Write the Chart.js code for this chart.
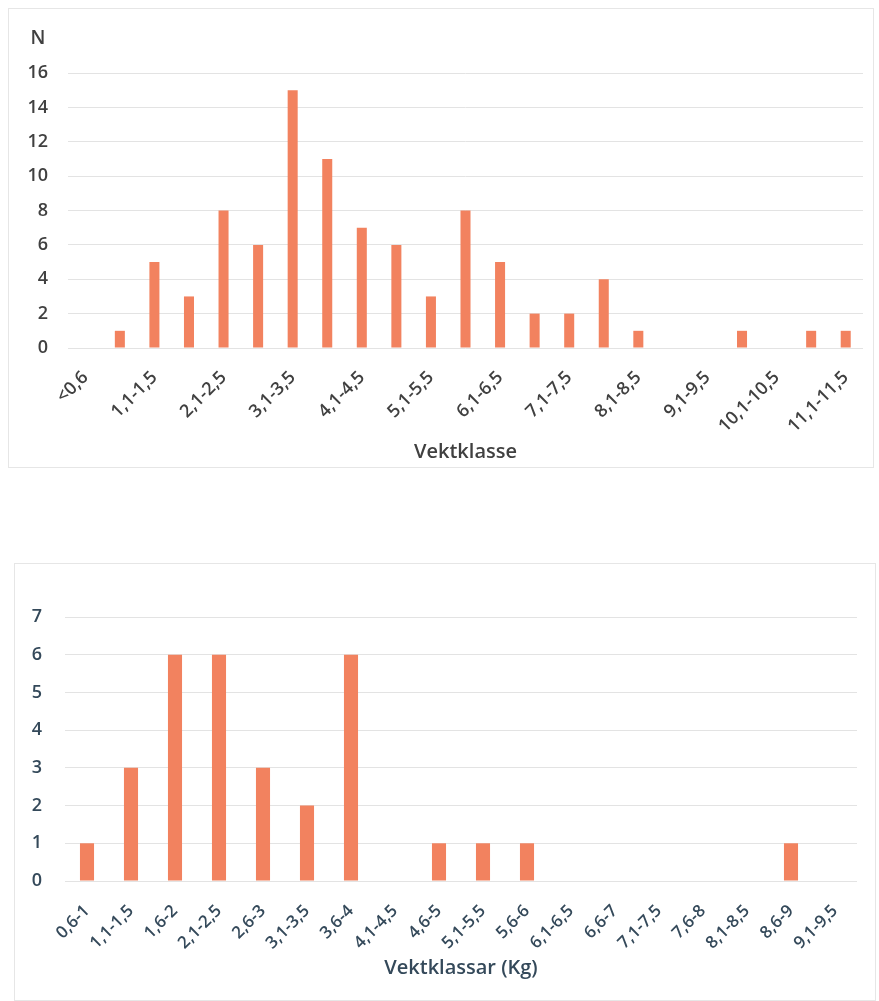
<!DOCTYPE html>
<html><head><meta charset="utf-8">
<script src="https://cdn.jsdelivr.net/npm/chart.js@4"></script>
<style>
body{margin:0;background:#fff;width:879px;height:1001px;overflow:hidden;position:relative;font-family:"Open Sans",sans-serif;}
.box{position:absolute;border:1px solid #e6e6e6;box-sizing:border-box;}
#b1{left:8px;top:8px;width:866px;height:460px;}
#b2{left:14px;top:563px;width:862px;height:438px;}
canvas{display:block}
</style></head><body>
<div class="box" id="b1"><canvas id="c1"></canvas></div>
<div class="box" id="b2"><canvas id="c2"></canvas></div>
<script>
const topCategories = ['<0,6','0,6-1','1,1-1,5','1,6-2','2,1-2,5','2,6-3','3,1-3,5','3,6-4','4,1-4,5','4,6-5','5,1-5,5','5,6-6','6,1-6,5','6,6-7','7,1-7,5','7,6-8','8,1-8,5','8,6-9','9,1-9,5','9,6-10','10,1-10,5','10,6-11','11,1-11,5'];
const topValues = [0,1,5,3,8,6,15,11,7,6,3,8,5,2,2,4,1,0,0,1,0,1,1];
const topYTicks = [0,2,4,6,8,10,12,14,16];

const bottomCategories = ['0,6-1','1,1-1,5','1,6-2','2,1-2,5','2,6-3','3,1-3,5','3,6-4','4,1-4,5','4,6-5','5,1-5,5','5,6-6','6,1-6,5','6,6-7','7,1-7,5','7,6-8','8,1-8,5','8,6-9','9,1-9,5'];
const bottomValues = [1,3,6,6,3,2,6,0,1,1,1,0,0,0,0,0,1,0];
const bottomYTicks = [0,1,2,3,4,5,6,7];

const BAR = '#f2825f';
const FONT = '"Open Sans", sans-serif';

const nLabel = {
  id:'nLabel',
  afterDraw(chart, args, opts){
    if(!opts.text) return;
    const ctx = chart.ctx;
    ctx.save();
    ctx.font = '600 19px ' + FONT;
    ctx.fillStyle = opts.color;
    ctx.textAlign = 'center';
    ctx.textBaseline = 'middle';
    ctx.fillText(opts.text, opts.x, opts.y);
    ctx.restore();
  }
};

function makeChart(id, cats, vals, yt, cfg){
  return new Chart(document.getElementById(id), {
    type:'bar',
    data:{labels:cats, datasets:[{data:vals, backgroundColor:BAR, borderWidth:0, barPercentage:cfg.barPct, categoryPercentage:1}]},
    options:{
      responsive:true, maintainAspectRatio:false, animation:false,
      layout:{padding:{top:cfg.padTop, right:cfg.padRight, bottom:cfg.padBottom, left:0}},
      plugins:{legend:{display:false}, tooltip:{enabled:false}, nLabel:cfg.nLabel},
      scales:{
        x:{
          grid:{display:false, drawTicks:false},
          border:{display:false},
          ticks:{autoSkip:false, maxRotation:45, minRotation:45, padding:cfg.xPad, color:cfg.color,
                 font:{family:FONT, size:cfg.xFont, weight:'600'},
                 callback:function(v,i){ return (i % cfg.every === 0) ? cats[i] : ''; }},
          title:{display:true, text:cfg.title, color:cfg.color, font:{family:FONT, size:20, weight:'600'}, padding:{top:0,bottom:3}},
          afterFit:function(s){ s.height = cfg.xHeight; s.paddingLeft = 0; s.paddingRight = 0; }
        },
        y:{
          min:yt[0], max:yt[yt.length-1],
          grid:{color:'#e3e3e3', lineWidth:1, drawTicks:false},
          border:{display:false},
          afterBuildTicks:function(s){ s.ticks = yt.map(v=>({value:v})); },
          ticks:{padding:cfg.yPad, color:cfg.color, font:{family:FONT, size:18, weight:'600'}},
          afterFit:function(s){ s.width = cfg.yWidth; }
        }
      }
    },
    plugins:[nLabel]
  });
}

makeChart('c1', topCategories, topValues, topYTicks, {
  barPct:0.29, padTop:64, padRight:10, padBottom:0, xHeight:119, yWidth:59, yPad:20, xPad:19, xFont:18,
  every:2, color:'#404040', title:'Vektklasse', nLabel:{text:'N', x:29, y:30, color:'#404040'}
});
makeChart('c2', bottomCategories, bottomValues, bottomYTicks, {
  barPct:0.32, padTop:53, padRight:18, padBottom:17, xHeight:102, yWidth:50, yPad:23, xPad:20, xFont:17,
  every:1, color:'#34495a', title:'Vektklassar (Kg)', nLabel:{}
});
</script>
</body></html>
